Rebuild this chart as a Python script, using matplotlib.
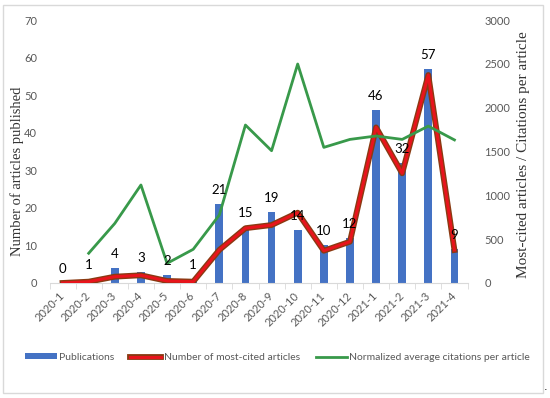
import numpy as np
import matplotlib
matplotlib.use("Agg")
import matplotlib.pyplot as plt
import matplotlib.patheffects as pe
from matplotlib.patches import Rectangle

# data
months = ["2020-1", "2020-2", "2020-3", "2020-4", "2020-5", "2020-6", "2020-7", "2020-8",
          "2020-9", "2020-10", "2020-11", "2020-12", "2021-1", "2021-2", "2021-3", "2021-4"]
publications = [0, 1, 4, 3, 2, 1, 21, 15, 19, 14, 10, 12, 46, 32, 57, 9]
most_cited = [0, 15, 72, 88, 23, 15, 377, 625, 661, 802, 368, 471, 1775, 1251, 2373, 376]
norm_citations = [np.nan, 339, 680, 1118, 224, 384, 775, 1802, 1509, 2498, 1547, 1638,
                  1677, 1638, 1790, 1632]

gray = "#595959"
sans = "Lato"
serif = "Liberation Serif"

fig = plt.figure(figsize=(5.5, 3.98), dpi=100)
ax = fig.add_axes([0.09, 0.289, 0.76, 0.6607])
ax2 = ax.twinx()

x = np.arange(len(months))
ax.bar(x, publications, width=0.3, color="#4472C4", label="Publications", zorder=2)

ax2.plot(x, most_cited, color="#e8141c", lw=2.2, label="Number of most-cited articles",
         solid_joinstyle="round",
         path_effects=[pe.Stroke(linewidth=4.2, foreground="#8a3a12"), pe.Normal()])
ax2.plot(x, norm_citations, color="#38994a", lw=2.0, solid_joinstyle="round",
         label="Normalized average citations per article")

for xi, v in zip(x, publications):
    ax2.annotate(str(v), (xi, v), xycoords=ax.transData, textcoords="offset pixels",
                 xytext=(0, 14), ha="center", va="center", fontsize=9.5,
                 family=sans, color="black")

ax.set_xlim(-0.5, len(months) - 0.5)
ax.set_ylim(0, 70)
ax.set_yticks(range(0, 71, 10))
ax2.set_ylim(0, 3000)
ax2.set_yticks(range(0, 3001, 500))

ax.set_xticks(x)
ax.set_xticklabels(months, rotation=45, ha="right", va="center", rotation_mode="anchor",
                   fontsize=8, family=sans, color=gray)
ax.set_xticks(np.arange(-0.5, len(months)), minor=True)
ax.tick_params(axis="x", which="major", length=0, pad=8)
ax.tick_params(axis="x", which="minor", length=4, color="#d9d9d9", direction="out")
ax.tick_params(axis="y", length=0, pad=9, labelsize=8, labelcolor=gray)
ax2.tick_params(axis="y", length=0, pad=12, labelsize=8, labelcolor=gray)
for lab in ax.get_yticklabels() + ax2.get_yticklabels():
    lab.set_family(sans)

for a in (ax, ax2):
    for s in ("top", "left", "right"):
        a.spines[s].set_visible(False)
    a.spines["bottom"].set_color("#d9d9d9")
ax2.spines["bottom"].set_visible(False)

ax.set_ylabel("Number of articles published", family=serif, fontsize=10.5, color="#333333")
ax.yaxis.set_label_coords(-0.061, 0.426)
ax2.set_ylabel("Most-cited articles / Citations per article", family=serif, fontsize=11,
               color="#333333")
ax2.yaxis.set_label_coords(1.118, 0.49)

h1, l1 = ax.get_legend_handles_labels()
h2, l2 = ax2.get_legend_handles_labels()
leg = fig.legend(h1 + h2, l1 + l2, ncol=3, loc="center", bbox_to_anchor=(0.505, 0.102),
                 frameon=False, prop={"family": sans, "size": 7.5}, handlelength=3.0,
                 handleheight=0.45, handletextpad=0.25, columnspacing=1.5)
for t in leg.get_texts():
    t.set_color(gray)

fig.patches.append(Rectangle((3, 5), 540, 388, transform=None, fill=False,
                             edgecolor="#d9d9d9", lw=1))
fig.text(546 / 550, 1 - 392 / 398, ".", fontsize=8, ha="center", va="bottom")

fig.savefig("out.png", dpi=100)
